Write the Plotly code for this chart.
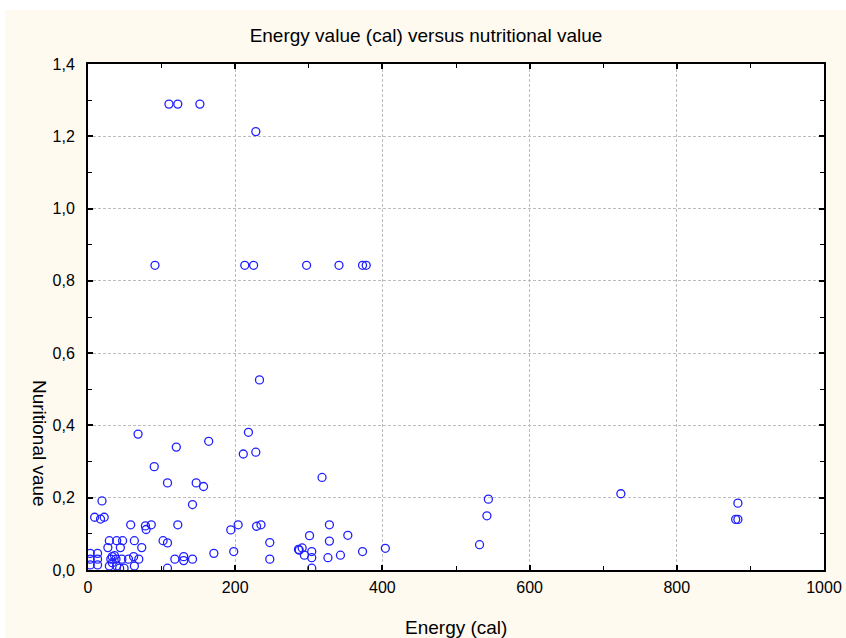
import plotly.graph_objects as go

energy_top = [110, 122, 152, 228, 91, 213, 225, 297, 341, 373, 378]
nutri_top = [1.289, 1.289, 1.289, 1.213, 0.843, 0.843, 0.843, 0.843, 0.843, 0.843, 0.843]

energy_mid = [233, 68, 218, 164, 120, 211, 228, 90, 108, 147, 157, 19, 142, 318]
nutri_mid = [0.526, 0.376, 0.381, 0.356, 0.340, 0.321, 0.326, 0.286, 0.241, 0.241, 0.231, 0.191, 0.181, 0.256]

energy_low = [9, 17, 22, 58, 78, 79, 86, 122, 194, 204, 229, 235, 247, 247,
              29, 39, 47, 27, 44, 63, 73, 102, 108, 171, 198,
              118, 130, 142, 130, 108,
              46, 55, 62, 69, 63,
              31, 33, 3, 13, 3, 13, 3, 13,
              29, 39, 43, 49, 36, 33, 38,
              286, 328, 301, 353, 328, 287, 291, 304, 294, 304, 326, 343, 373, 404, 304]
nutri_low = [0.146, 0.141, 0.146, 0.125, 0.122, 0.112, 0.125, 0.125, 0.111, 0.125, 0.121, 0.125, 0.076, 0.030,
             0.081, 0.081, 0.081, 0.062, 0.062, 0.081, 0.062, 0.081, 0.075, 0.046, 0.051,
             0.030, 0.037, 0.030, 0.026, 0.005,
             0.030, 0.030, 0.037, 0.030, 0.011,
             0.030, 0.037, 0.046, 0.046, 0.030, 0.030, 0.014, 0.014,
             0.011, 0.011, 0.005, 0.005, 0.040, 0.020, 0.030,
             0.057, 0.125, 0.095, 0.096, 0.080, 0.055, 0.061, 0.051, 0.041, 0.034, 0.034, 0.041, 0.051, 0.060, 0.005]

energy_high = [544, 542, 532, 724, 883, 880, 883]
nutri_high = [0.196, 0.150, 0.070, 0.211, 0.185, 0.140, 0.140]

energy = energy_top + energy_mid + energy_low + energy_high
nutri = nutri_top + nutri_mid + nutri_low + nutri_high

x_ticks = [0, 200, 400, 600, 800, 1000]
y_ticks = [0.0, 0.2, 0.4, 0.6, 0.8, 1.0, 1.2, 1.4]

CREAM = "#FFFAF0"
FONT = "Arial, Liberation Sans, sans-serif"

fig = go.Figure()
fig.add_trace(go.Scatter(
    x=energy, y=nutri, mode="markers",
    marker=dict(symbol="circle-open", size=8, color="#2020FF", line=dict(width=1.3)),
    showlegend=False, hoverinfo="x+y",
))

axis_common = dict(
    showline=True, linecolor="black", linewidth=2, mirror="ticks",
    ticks="inside", ticklen=5, tickwidth=1.5, tickcolor="black",
    showgrid=True, gridcolor="#BDBDBD", gridwidth=1, griddash="3px,2px",
    zeroline=False, tickfont=dict(family=FONT, size=16, color="black"),
    ticklabeloverflow="allow",
)

fig.update_xaxes(range=[0, 1000], tickvals=x_ticks, ticktext=[str(v) for v in x_ticks],
                 ticklabelstandoff=2,
                 minor=dict(dtick=100, tick0=0, ticks="inside", ticklen=4, tickwidth=1.2,
                            tickcolor="black", showgrid=False),
                 **axis_common)
fig.update_yaxes(range=[0, 1.4], tickvals=y_ticks, ticktext=[f"{v:.1f}".replace(".", ",") for v in y_ticks],
                 ticklabelstandoff=8,
                 minor=dict(dtick=0.1, tick0=0, ticks="inside", ticklen=4, tickwidth=1.2,
                            tickcolor="black", showgrid=False),
                 **axis_common)

# the rendered figure comes out 8px narrower than the requested width
SHRINK = 8
W, H = 846 + SHRINK, 638
RW = W - SHRINK
L, R, T, B = 88, RW - 825, 64, 638 - 570
pw, ph = RW - L - R, H - T - B

def px_x(p):
    return (p - L) / pw

def px_y(p):
    return (H - B - p) / ph

fig.update_layout(
    width=W, height=H, autosize=False,
    margin=dict(l=L, r=R, t=T, b=B, pad=0),
    paper_bgcolor=CREAM, plot_bgcolor="white",
    font=dict(family=FONT, size=16, color="black"),
    title=dict(text="Energy value (cal) versus nutritional value", x=426 / W, xref="container",
               xanchor="center", y=1 - 35 / H, yref="container", yanchor="middle",
               font=dict(family=FONT, size=19, color="black")),
    shapes=[
        dict(type="rect", xref="paper", yref="paper", x0=px_x(0), x1=px_x(RW + 20), y0=px_y(10), y1=px_y(0),
             fillcolor="white", line=dict(width=0), layer="below"),
        dict(type="rect", xref="paper", yref="paper", x0=px_x(0), x1=px_x(5), y0=px_y(H), y1=px_y(0),
             fillcolor="white", line=dict(width=0), layer="below"),
    ],
    annotations=[
        dict(text="Energy (cal)", xref="paper", yref="paper", x=px_x(456), y=px_y(627),
             xanchor="center", yanchor="middle", showarrow=False,
             font=dict(family=FONT, size=19, color="black")),
        dict(text="Nuritional vaue", xref="paper", yref="paper", x=px_x(40), y=px_y(443),
             xanchor="center", yanchor="middle", showarrow=False, textangle=90,
             font=dict(family=FONT, size=19, color="black")),
    ],
)

post = (
    "document.body.style.margin='0';"
    "document.body.style.overflow='hidden';"
    "document.documentElement.style.background='" + CREAM + "';"
    "document.body.style.background='" + CREAM + "';"
    "var gd=document.getElementById('{plot_id}');"
    "Plotly.relayout(gd,{width:" + str(W) + ",height:" + str(H) + "});"
)

fig.write_html("out.html", post_script=post, config={"displayModeBar": False})
